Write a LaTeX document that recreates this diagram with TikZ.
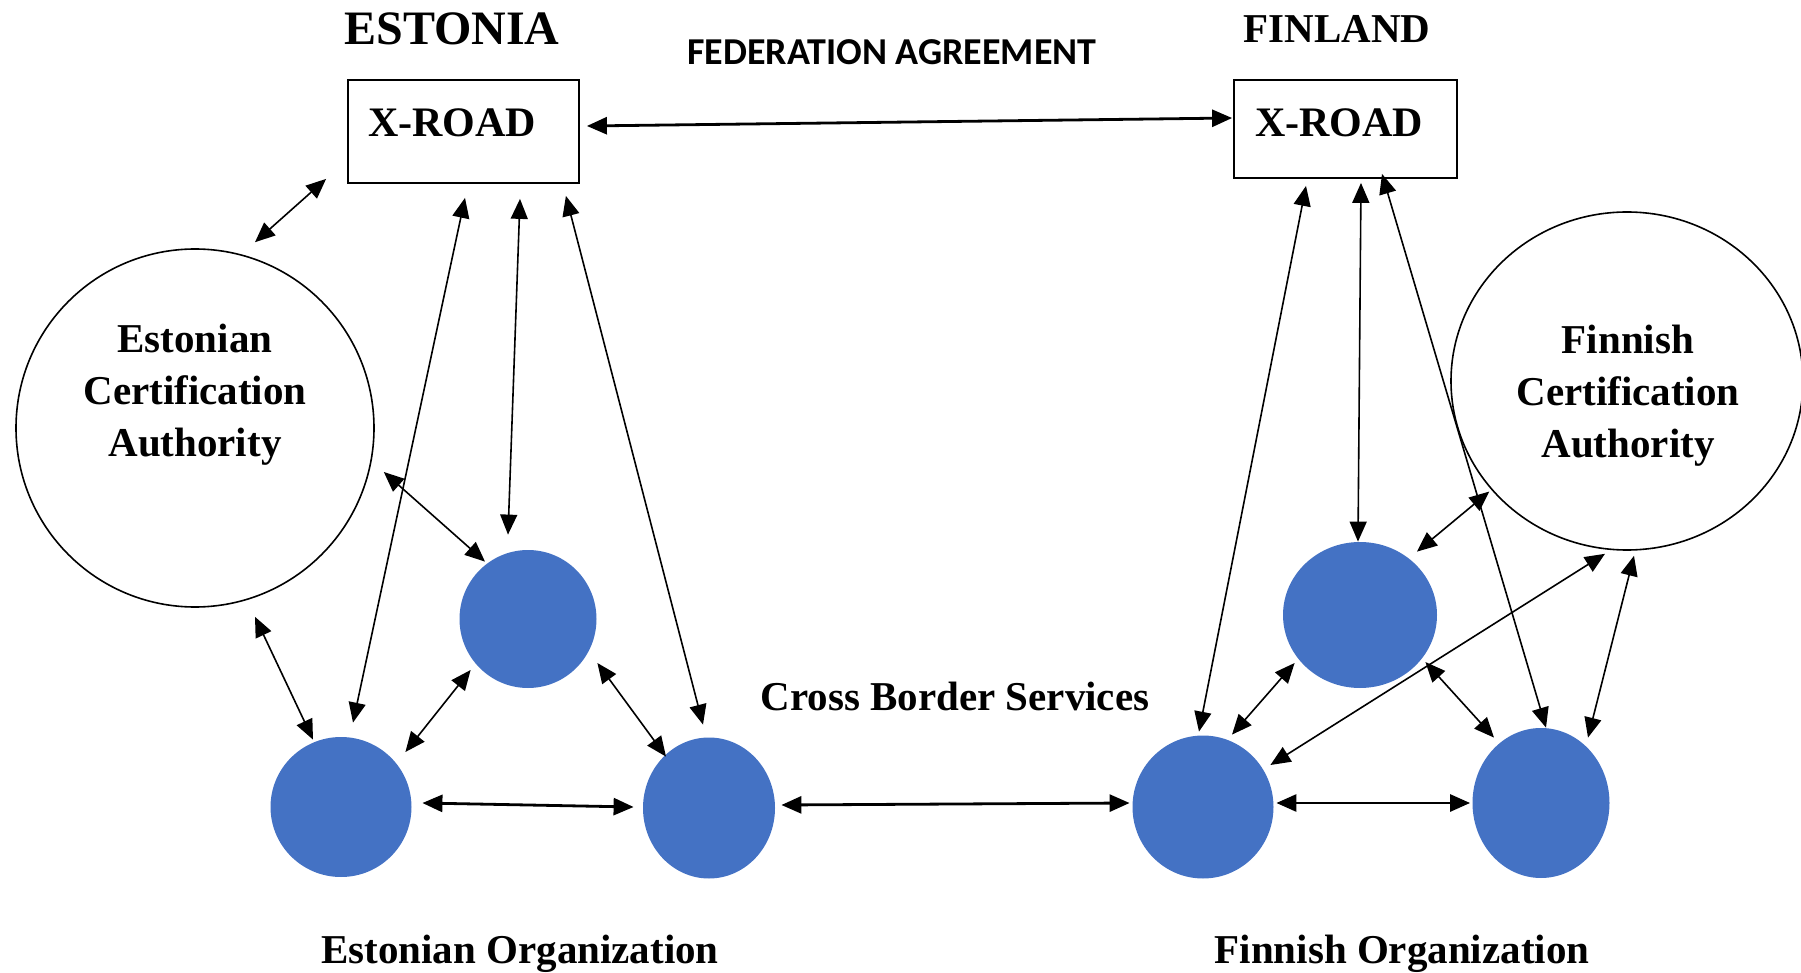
\documentclass[tikz,border=0pt]{standalone}
\usepackage{fontspec}
\setmainfont{Liberation Serif}
\newfontfamily\calibri{Carlito}
\usepackage{xcolor}
\usetikzlibrary{arrows.meta, shapes.geometric}
\definecolor{orgblue}{HTML}{4472C4}

\begin{document}
\begin{tikzpicture}[
    x=0.5pt, y=-0.5pt,
    % Node styles
    xroad/.style={rectangle, draw, line width=0.9pt, inner sep=0pt, text height=28.5pt, font=\fontsize{21}{25}\selectfont\bfseries},
    authority/.style={draw, line width=0.8pt, inner sep=0pt},
    catext/.style={align=center, font=\fontsize{20.5}{26}\selectfont\bfseries},
    org/.style={ellipse, fill=orgblue, inner sep=0pt},
    heading/.style={anchor=base, font=\fontsize{20.5}{25}\selectfont\bfseries},
    link/.style={{Triangle[length=10pt, width=8.5pt]}-{Triangle[length=10pt, width=8.5pt]}, line width=0.8pt},
    boldlink/.style={link, line width=1.4pt},
]
\useasboundingbox (0,0) rectangle (1801,973);

% Country headings
\node[heading, font=\fontsize{24}{28}\selectfont\bfseries] (esttitle) at (452,45) {ESTONIA};
\node[heading] (fintitle) at (1337,43) {FINLAND};
\node[anchor=base, font=\calibri\bfseries\fontsize{19}{22}\selectfont] (fedlabel) at (892,65) {FEDERATION AGREEMENT};

% X-Road boxes
\node[xroad, minimum width=115.5pt, text depth=23pt] (estxr) at (463.5,131.5) {X-ROAD\hspace*{11.5pt}};
\node[xroad, minimum width=111.5pt, text depth=20.5pt] (finxr) at (1345.5,129) {X-ROAD\hspace*{6.5pt}};

% Certification authorities
\node[authority, circle, minimum size=179pt] (estca) at (195,428) {};
\node[catext] (estcatext) at (195,395) {Estonian\\Certification\\Authority};
\node[authority, ellipse, minimum width=176pt, minimum height=169pt] (finca) at (1627,381) {};
\node[catext] (fincatext) at (1628,396) {Finnish\\Certification\\Authority};

% Organizations
\node[org, minimum width=68.5pt, minimum height=69pt] (e1) at (528,619) {};
\node[org, minimum width=70.5pt, minimum height=70pt] (e2) at (341,807) {};
\node[org, minimum width=66pt, minimum height=70.5pt] (e3) at (709,808) {};
\node[org, minimum width=77pt, minimum height=73pt] (f1) at (1360,615) {};
\node[org, minimum width=70.5pt, minimum height=71.5pt] (f2) at (1203,807) {};
\node[org, minimum width=68.5pt, minimum height=75pt] (f3) at (1541,803) {};

\node[heading] (crosslabel) at (955,710) {Cross Border Services};
\node[heading] (estorg) at (520,963) {Estonian Organization};
\node[heading] (finorg) at (1402,963) {Finnish Organization};

% Federation link
\draw[boldlink] ([xshift=3.5pt, yshift=2.75pt]estxr.east) -- ([xshift=-0.5pt, yshift=5.5pt]finxr.west);

% Estonian side
\draw[link] ([xshift=30pt, yshift=3pt]estca.north) -- ([xshift=-10.5pt, yshift=2.5pt]estxr.south west);
\draw[link] ([xshift=0.75pt, yshift=-7pt]estxr.south) -- ([xshift=6pt, yshift=7pt]e2.north);
\draw[link] ([xshift=28.25pt, yshift=-7.5pt]estxr.south) -- ([xshift=-10pt, yshift=7.5pt]e1.north);
\draw[link] ([xshift=-7pt, yshift=-6pt]estxr.south east) -- ([xshift=-3pt, yshift=6.25pt]e3.north);
\draw[link] ([xshift=4.5pt, yshift=-22pt]estca.east) -- ([xshift=-21.5pt, yshift=-6pt]e1.north);
\draw[link] ([xshift=30pt, yshift=-4.5pt]estca.south) -- ([xshift=-14pt, yshift=-1.5pt]e2.north);
\draw[link] ([xshift=5.75pt, yshift=-25.5pt]e1.west) -- ([xshift=-3.25pt, yshift=27.5pt]e2.east);
\draw[link] ([xshift=0.25pt, yshift=-22pt]e1.east) -- ([xshift=-21.5pt, yshift=-9.75pt]e3.north);
\draw[boldlink] ([xshift=5.25pt, yshift=2pt]e2.east) -- ([xshift=-4.5pt, yshift=0.5pt]e3.west);

% Cross border services
\draw[boldlink] ([xshift=3pt, yshift=1.5pt]e3.east) -- ([xshift=-1.25pt, yshift=2pt]f2.west);

% Finnish side
\draw[link] ([xshift=-19.75pt, yshift=-3.5pt]finxr.south) -- ([xshift=-2pt, yshift=1.75pt]f2.north);
\draw[link] ([xshift=7.75pt, yshift=-2pt]finxr.south) -- ([xshift=-1pt]f1.north);
\draw[link] ([xshift=18.25pt, yshift=2.5pt]finxr.south) -- ([xshift=2.5pt]f3.north);
\draw[link] ([xshift=-2.25pt, yshift=0.6pt]finca.220) -- ([xshift=28.5pt, yshift=-5pt]f1.north);
\draw[link] ([xshift=-11pt, yshift=-1.5pt]finca.south) -- ([xshift=-1.75pt, yshift=21pt]f2.east);
\draw[link] ([xshift=3.5pt, yshift=-2.5pt]finca.south) -- ([xshift=23.5pt, yshift=-5pt]f3.north);
\draw[link] ([xshift=6pt, yshift=-24pt]f1.west) -- ([xshift=14.5pt, yshift=0.25pt]f2.north);
\draw[link] ([xshift=-6pt, yshift=-23.5pt]f1.east) -- ([xshift=-23.5pt, yshift=-5pt]f3.north);
\draw[boldlink] ([xshift=1.25pt, yshift=2pt]f2.east) -- ([xshift=-1pt]f3.west);

\end{tikzpicture}
\end{document}
